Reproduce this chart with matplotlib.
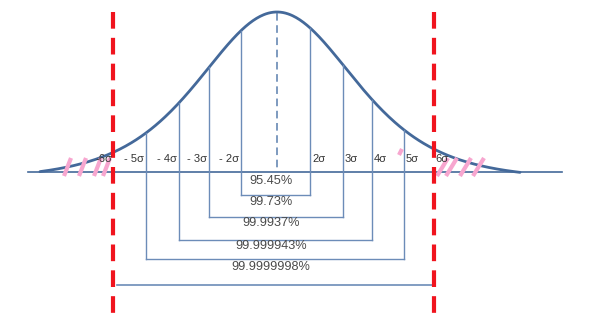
import numpy as np
import matplotlib.pyplot as plt

plt.rcParams['font.family'] = ['Liberation Sans', 'DejaVu Sans']

# sigma levels and share of the area inside +-k sigma
sigmas = [2, 3, 4, 5, 6]
coverage = ['95.45%', '99.73%', '99.9937%', '99.999943%', '99.9999998%']

# schematic drawing, in picture units (y grows downwards)
mean_x = 277
base_y = 172
peak_y = 12
left_x = [241, 209, 179, 146, 113]
right_x = [310, 343, 372, 404, 434]
bracket_y = [195, 217, 240, 259, 285]
label_y = [181, 202, 223, 246, 267]

curve_col = '#44699a'
line_col = '#6c8cb8'
text_col = '#4a4a4a'
red = '#f0141e'
pink = '#f7a6cf'


def bell(x):
    # heavy tailed bell, reaches the axis at the ends
    f = (1 + ((x - mean_x) / 180.0) ** 2) ** -3
    f_end = (1 + (240 / 180.0) ** 2) ** -3
    return base_y - (base_y - peak_y) * (f - f_end) / (1 - f_end)


fig = plt.figure(figsize=(5.91, 3.24), dpi=100)
ax = fig.add_axes([0, 0, 1, 1])
ax.set_xlim(0, 591)
ax.set_ylim(324, 0)
ax.axis('off')

# axis line and curve
ax.plot([28, 562], [base_y, base_y], color=curve_col, lw=1.2)
xs = np.linspace(mean_x - 237, mean_x + 243, 400)
ax.plot(xs, bell(xs), color=curve_col, lw=2, solid_capstyle='round')

# mean
ax.plot([mean_x, mean_x], [peak_y + 1, base_y], color='#5a7fae', lw=1.1,
        dashes=(5, 3))

# sigma lines and brackets
for i, k in enumerate(sigmas):
    lx, rx, by = left_x[i], right_x[i], bracket_y[i]
    if k < 6:
        ax.plot([lx, lx], [bell(lx), by], color=line_col, lw=1)
        ax.plot([rx, rx], [bell(rx), by], color=line_col, lw=1)
        ax.plot([lx, rx], [by, by], color=line_col, lw=1)
        ax.text(lx - 2, 159, '- %d\u03c3' % k, ha='right', va='center',
                fontsize=8, color='#333333')
        ax.text(rx + 2, 159, '%d\u03c3' % k, ha='left', va='center',
                fontsize=8, color='#333333')
    else:
        ax.plot([lx + 4, rx - 1], [by, by], color=line_col, lw=1.2)
        ax.text(lx - 1, 159, '-6\u03c3', ha='right', va='center', fontsize=8,
                color='#333333')
        ax.text(rx + 1, 159, '6\u03c3', ha='left', va='center', fontsize=8,
                color='#333333')
    ax.text(271, label_y[i], coverage[i], ha='center', va='center',
            fontsize=9.2, color=text_col)

# pink hatching in the tails
for bx in [64, 79, 94, 103]:
    ax.plot([bx, bx + 7], [176, 158], color=pink, lw=3, solid_capstyle='butt')
for bx in [437, 446, 460, 473]:
    ax.plot([bx, bx + 11], [176, 158], color=pink, lw=3, solid_capstyle='butt')
ax.plot([399, 402], [155, 149], color=pink, lw=3, solid_capstyle='butt')

# six sigma limits
for x in [left_x[-1], right_x[-1]]:
    ax.plot([x, x], [12, 322], color=red, lw=3, dashes=(4, 2.2),
            solid_capstyle='butt')

fig.savefig('out.png', dpi=100)
